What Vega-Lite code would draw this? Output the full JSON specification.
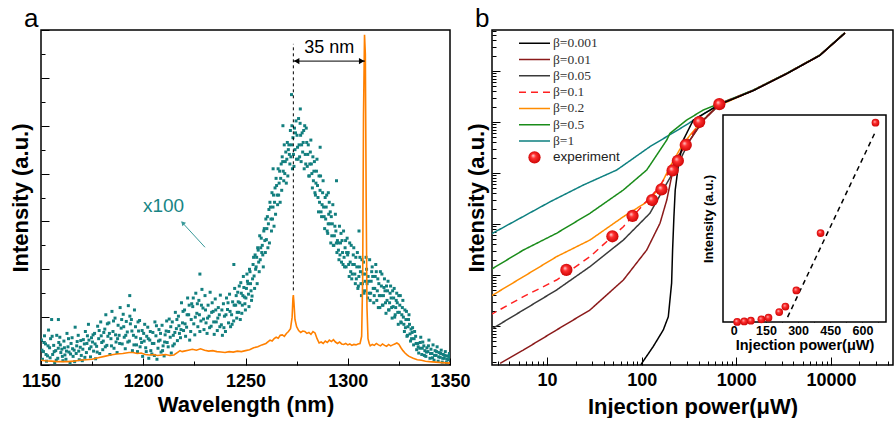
{
"$schema":"https://vega.github.io/schema/vega-lite/v6.json",
"background":"white",
"padding":{"left":8,"top":4,"right":0,"bottom":0},
"bounds":"flush",
"spacing":42,
"config":{
 "font":"Liberation Sans",
 "view":{"stroke":"#000","strokeWidth":1.5},
 "axis":{"domain":false,"grid":false,"tickColor":"#000","tickWidth":1,"labelColor":"#000","titleColor":"#000","labelFont":"Liberation Sans","titleFont":"Liberation Sans","labelFontWeight":"bold","titleFontWeight":"bold","labelFontSize":18,"titleFontSize":22,"labelOverlap":false,"labelFlush":false}
},
"datasets":{
 "spec":[{"w":1150,"v":0.10},{"w":1152,"v":0.09},{"w":1155,"v":0.08},{"w":1158,"v":0.07},{"w":1160,"v":0.07},{"w":1163,"v":0.07},{"w":1166,"v":0.08},{"w":1169,"v":0.10},{"w":1172,"v":0.11},{"w":1175,"v":0.12},{"w":1178,"v":0.15},{"w":1181,"v":0.18},{"w":1184,"v":0.21},{"w":1187,"v":0.23},{"w":1190,"v":0.24},{"w":1193,"v":0.26},{"w":1195,"v":0.26},{"w":1197,"v":0.24},{"w":1199,"v":0.25},{"w":1201,"v":0.22},{"w":1203,"v":0.21},{"w":1205,"v":0.22},{"w":1207,"v":0.20},{"w":1209,"v":0.21},{"w":1211,"v":0.22},{"w":1213,"v":0.20},{"w":1215,"v":0.21},{"w":1217,"v":0.27},{"w":1218,"v":0.30},{"w":1219,"v":0.28},{"w":1220,"v":0.29},{"w":1222,"v":0.31},{"w":1224,"v":0.33},{"w":1226,"v":0.31},{"w":1228,"v":0.34},{"w":1230,"v":0.31},{"w":1232,"v":0.29},{"w":1234,"v":0.30},{"w":1236,"v":0.28},{"w":1238,"v":0.27},{"w":1240,"v":0.26},{"w":1242,"v":0.28},{"w":1244,"v":0.27},{"w":1246,"v":0.29},{"w":1248,"v":0.28},{"w":1250,"v":0.30},{"w":1252,"v":0.32},{"w":1254,"v":0.36},{"w":1256,"v":0.38},{"w":1258,"v":0.42},{"w":1260,"v":0.45},{"w":1262,"v":0.52},{"w":1263,"v":0.50},{"w":1264,"v":0.55},{"w":1265,"v":0.58},{"w":1266,"v":0.56},{"w":1267,"v":0.62},{"w":1268,"v":0.63},{"w":1269,"v":0.60},{"w":1270,"v":0.66},{"w":1271,"v":0.70},{"w":1272,"v":0.76},{"w":1272.8,"v":1.0},{"w":1273.2,"v":1.40},{"w":1273.4,"v":1.46},{"w":1273.7,"v":1.30},{"w":1274.2,"v":0.95},{"w":1275,"v":0.80},{"w":1276,"v":0.72},{"w":1277,"v":0.68},{"w":1278,"v":0.71},{"w":1279,"v":0.70},{"w":1280,"v":0.66},{"w":1281,"v":0.68},{"w":1282,"v":0.64},{"w":1283,"v":0.70},{"w":1284,"v":0.67},{"w":1285,"v":0.55},{"w":1286,"v":0.46},{"w":1287,"v":0.48},{"w":1288,"v":0.45},{"w":1289,"v":0.50},{"w":1290,"v":0.47},{"w":1291,"v":0.52},{"w":1292,"v":0.49},{"w":1293,"v":0.53},{"w":1294,"v":0.48},{"w":1295,"v":0.45},{"w":1296,"v":0.48},{"w":1297,"v":0.44},{"w":1298,"v":0.43},{"w":1299,"v":0.45},{"w":1300,"v":0.42},{"w":1301,"v":0.44},{"w":1302,"v":0.41},{"w":1303,"v":0.43},{"w":1304,"v":0.42},{"w":1305,"v":0.44},{"w":1306,"v":0.45},{"w":1306.8,"v":0.6},{"w":1307.3,"v":1.8},{"w":1307.7,"v":5.2},{"w":1308.2,"v":6.9},{"w":1308.6,"v":6.5},{"w":1309,"v":3.5},{"w":1309.4,"v":1.2},{"w":1309.9,"v":0.55},{"w":1310.5,"v":0.45},{"w":1311,"v":0.40},{"w":1312,"v":0.43},{"w":1313,"v":0.41},{"w":1314,"v":0.45},{"w":1315,"v":0.42},{"w":1316,"v":0.40},{"w":1317,"v":0.44},{"w":1318,"v":0.41},{"w":1319,"v":0.39},{"w":1320,"v":0.43},{"w":1321,"v":0.40},{"w":1322,"v":0.42},{"w":1323,"v":0.44},{"w":1324,"v":0.46},{"w":1325,"v":0.43},{"w":1326,"v":0.36},{"w":1327,"v":0.30},{"w":1328,"v":0.25},{"w":1329,"v":0.21},{"w":1330,"v":0.18},{"w":1332,"v":0.14},{"w":1334,"v":0.11},{"w":1336,"v":0.10},{"w":1338,"v":0.08},{"w":1340,"v":0.07},{"w":1343,"v":0.06},{"w":1346,"v":0.05},{"w":1350,"v":0.04}],
 "dots":[{"w":1150.2,"v":0.52},{"w":1150.7,"v":0.12},{"w":1151.2,"v":0.28},{"w":1151.7,"v":0.61},{"w":1152.2,"v":0.44},{"w":1152.7,"v":0.08},{"w":1153.2,"v":0.19},{"w":1153.7,"v":0.73},{"w":1154.2,"v":0.36},{"w":1154.7,"v":0.55},{"w":1155.2,"v":0.95},{"w":1155.7,"v":0.22},{"w":1156.2,"v":0.41},{"w":1156.7,"v":0.05},{"w":1157.2,"v":0.30},{"w":1157.7,"v":0.62},{"w":1158.2,"v":0.14},{"w":1158.7,"v":0.47},{"w":1159.2,"v":0.58},{"w":1159.7,"v":0.26},{"w":1160.2,"v":0.33},{"w":1160.7,"v":0.09},{"w":1161.2,"v":0.50},{"w":1161.7,"v":0.21},{"w":1162.2,"v":0.12},{"w":1162.7,"v":0.66},{"w":1163.2,"v":0.38},{"w":1163.7,"v":0.27},{"w":1164.2,"v":0.04},{"w":1164.7,"v":0.45},{"w":1165.2,"v":0.57},{"w":1165.7,"v":0.18},{"w":1166.2,"v":0.31},{"w":1166.7,"v":0.79},{"w":1167.2,"v":0.24},{"w":1167.7,"v":0.49},{"w":1168.2,"v":0.62},{"w":1168.7,"v":0.11},{"w":1169.2,"v":0.37},{"w":1169.7,"v":0.20},{"w":1170.2,"v":0.09},{"w":1170.7,"v":0.53},{"w":1171.2,"v":0.44},{"w":1171.7,"v":0.70},{"w":1172.2,"v":0.26},{"w":1172.7,"v":0.61},{"w":1173.2,"v":0.85},{"w":1173.7,"v":0.34},{"w":1174.2,"v":0.17},{"w":1174.7,"v":0.57},{"w":1175.2,"v":0.48},{"w":1175.7,"v":0.29},{"w":1176.2,"v":0.66},{"w":1176.7,"v":0.13},{"w":1177.2,"v":0.39},{"w":1177.7,"v":0.81},{"w":1178.2,"v":0.55},{"w":1178.7,"v":0.24},{"w":1179.2,"v":0.90},{"w":1179.7,"v":0.47},{"w":1180.2,"v":0.32},{"w":1180.7,"v":0.68},{"w":1181.2,"v":0.75},{"w":1181.7,"v":1.05},{"w":1182.2,"v":0.41},{"w":1182.7,"v":0.60},{"w":1183.2,"v":0.88},{"w":1183.7,"v":0.22},{"w":1184.2,"v":0.55},{"w":1184.7,"v":1.12},{"w":1185.2,"v":0.70},{"w":1185.7,"v":0.35},{"w":1186.2,"v":0.98},{"w":1186.7,"v":0.48},{"w":1187.2,"v":0.26},{"w":1187.7,"v":0.83},{"w":1188.2,"v":0.62},{"w":1188.7,"v":1.20},{"w":1189.2,"v":0.77},{"w":1189.7,"v":0.44},{"w":1190.2,"v":1.06},{"w":1190.7,"v":0.58},{"w":1191.2,"v":0.34},{"w":1191.7,"v":0.91},{"w":1192.2,"v":0.69},{"w":1192.7,"v":1.24},{"w":1193.2,"v":0.50},{"w":1193.7,"v":0.86},{"w":1194.2,"v":0.95},{"w":1194.7,"v":0.30},{"w":1195.2,"v":0.62},{"w":1195.7,"v":1.15},{"w":1196.2,"v":0.80},{"w":1196.7,"v":0.42},{"w":1197.2,"v":0.28},{"w":1197.7,"v":0.71},{"w":1198.2,"v":0.93},{"w":1198.7,"v":0.55},{"w":1199.2,"v":0.47},{"w":1199.7,"v":0.18},{"w":1200.2,"v":0.66},{"w":1200.7,"v":0.85},{"w":1201.2,"v":0.36},{"w":1201.7,"v":0.60},{"w":1202.2,"v":0.79},{"w":1202.7,"v":0.14},{"w":1203.2,"v":0.52},{"w":1203.7,"v":0.30},{"w":1204.2,"v":0.23},{"w":1204.7,"v":0.68},{"w":1205.2,"v":0.45},{"w":1205.7,"v":0.90},{"w":1206.2,"v":0.61},{"w":1206.7,"v":0.12},{"w":1207.2,"v":0.35},{"w":1207.7,"v":0.74},{"w":1208.2,"v":0.52},{"w":1208.7,"v":0.27},{"w":1209.2,"v":0.83},{"w":1209.7,"v":0.40},{"w":1210.2,"v":0.19},{"w":1210.7,"v":0.63},{"w":1211.2,"v":0.71},{"w":1211.7,"v":0.47},{"w":1212.2,"v":0.38},{"w":1212.7,"v":0.96},{"w":1213.2,"v":0.58},{"w":1213.7,"v":0.25},{"w":1214.2,"v":0.90},{"w":1214.7,"v":0.62},{"w":1215.2,"v":0.44},{"w":1215.7,"v":1.10},{"w":1216.2,"v":0.76},{"w":1216.7,"v":0.51},{"w":1217.2,"v":1.02},{"w":1217.7,"v":0.66},{"w":1218.2,"v":0.57},{"w":1218.7,"v":1.30},{"w":1219.2,"v":0.88},{"w":1219.7,"v":0.72},{"w":1220.2,"v":1.15},{"w":1220.7,"v":0.60},{"w":1221.2,"v":0.79},{"w":1221.7,"v":1.40},{"w":1222.2,"v":1.05},{"w":1222.7,"v":0.52},{"w":1223.2,"v":0.70},{"w":1223.7,"v":1.28},{"w":1224.2,"v":1.22},{"w":1224.7,"v":0.86},{"w":1225.2,"v":0.63},{"w":1225.7,"v":1.50},{"w":1226.2,"v":1.08},{"w":1226.7,"v":0.80},{"w":1227.2,"v":1.35},{"w":1227.7,"v":0.70},{"w":1228.2,"v":0.92},{"w":1228.7,"v":1.58},{"w":1229.2,"v":1.19},{"w":1229.7,"v":0.74},{"w":1230.2,"v":1.45},{"w":1230.7,"v":0.88},{"w":1231.2,"v":0.66},{"w":1231.7,"v":1.25},{"w":1232.2,"v":1.02},{"w":1232.7,"v":1.52},{"w":1233.2,"v":0.81},{"w":1233.7,"v":1.30},{"w":1234.2,"v":1.12},{"w":1234.7,"v":0.64},{"w":1235.2,"v":1.38},{"w":1235.7,"v":0.90},{"w":1236.2,"v":0.72},{"w":1236.7,"v":1.20},{"w":1237.2,"v":1.05},{"w":1237.7,"v":1.46},{"w":1238.2,"v":0.84},{"w":1238.7,"v":0.62},{"w":1239.2,"v":1.28},{"w":1239.7,"v":1.02},{"w":1240.2,"v":0.70},{"w":1240.7,"v":1.40},{"w":1241.2,"v":1.16},{"w":1241.7,"v":0.88},{"w":1242.2,"v":1.48},{"w":1242.7,"v":0.80},{"w":1243.2,"v":1.05},{"w":1243.7,"v":1.32},{"w":1244.2,"v":0.92},{"w":1244.7,"v":1.60},{"w":1245.2,"v":1.25},{"w":1245.7,"v":0.98},{"w":1246.2,"v":1.52},{"w":1246.7,"v":1.10},{"w":1247.2,"v":1.30},{"w":1247.7,"v":1.72},{"w":1248.2,"v":1.08},{"w":1248.7,"v":1.45},{"w":1249.2,"v":1.62},{"w":1249.7,"v":1.28},{"w":1250.2,"v":1.40},{"w":1250.7,"v":1.90},{"w":1251.2,"v":1.70},{"w":1251.7,"v":1.22},{"w":1252.2,"v":1.95},{"w":1252.7,"v":1.55},{"w":1253.2,"v":1.44},{"w":1253.7,"v":2.10},{"w":1254.2,"v":1.86},{"w":1254.7,"v":2.30},{"w":1255.2,"v":2.05},{"w":1255.7,"v":1.70},{"w":1256.2,"v":2.40},{"w":1256.7,"v":1.95},{"w":1257.2,"v":2.20},{"w":1257.7,"v":2.65},{"w":1258.2,"v":2.50},{"w":1258.7,"v":2.05},{"w":1259.2,"v":2.85},{"w":1259.7,"v":2.35},{"w":1260.2,"v":2.62},{"w":1260.7,"v":3.10},{"w":1261.2,"v":2.95},{"w":1261.7,"v":2.55},{"w":1262.2,"v":3.30},{"w":1262.7,"v":2.80},{"w":1263.2,"v":3.05},{"w":1263.7,"v":3.55},{"w":1264.2,"v":3.40},{"w":1264.7,"v":3.15},{"w":1265.2,"v":3.75},{"w":1265.7,"v":3.35},{"w":1266.2,"v":3.55},{"w":1266.7,"v":4.05},{"w":1267.2,"v":3.90},{"w":1267.7,"v":3.65},{"w":1268.2,"v":4.25},{"w":1268.7,"v":3.85},{"w":1269.2,"v":4.00},{"w":1269.7,"v":4.45},{"w":1270.2,"v":4.30},{"w":1270.7,"v":3.95},{"w":1271.2,"v":4.60},{"w":1271.7,"v":4.20},{"w":1272.2,"v":4.35},{"w":1272.7,"v":5.00},{"w":1273.2,"v":4.75},{"w":1273.7,"v":4.15},{"w":1274.2,"v":4.50},{"w":1274.7,"v":5.10},{"w":1275.2,"v":4.80},{"w":1275.7,"v":4.30},{"w":1276.2,"v":4.60},{"w":1276.7,"v":5.05},{"w":1277.2,"v":4.25},{"w":1277.7,"v":4.85},{"w":1278.2,"v":4.65},{"w":1278.7,"v":4.10},{"w":1279.2,"v":4.40},{"w":1279.7,"v":4.95},{"w":1280.2,"v":4.15},{"w":1280.7,"v":4.60},{"w":1281.2,"v":3.95},{"w":1281.7,"v":4.45},{"w":1282.2,"v":4.20},{"w":1282.7,"v":3.70},{"w":1283.2,"v":3.85},{"w":1283.7,"v":4.25},{"w":1284.2,"v":3.55},{"w":1284.7,"v":4.05},{"w":1285.2,"v":3.75},{"w":1285.7,"v":3.20},{"w":1286.2,"v":3.40},{"w":1286.7,"v":3.95},{"w":1287.2,"v":3.10},{"w":1287.7,"v":3.60},{"w":1288.2,"v":3.30},{"w":1288.7,"v":2.85},{"w":1289.2,"v":3.05},{"w":1289.7,"v":3.55},{"w":1290.2,"v":2.75},{"w":1290.7,"v":3.15},{"w":1291.2,"v":2.95},{"w":1291.7,"v":2.55},{"w":1292.2,"v":2.70},{"w":1292.7,"v":3.35},{"w":1293.2,"v":2.50},{"w":1293.7,"v":2.90},{"w":1294.2,"v":2.80},{"w":1294.7,"v":2.35},{"w":1295.2,"v":2.55},{"w":1295.7,"v":2.20},{"w":1296.2,"v":2.30},{"w":1296.7,"v":2.75},{"w":1297.2,"v":2.60},{"w":1297.7,"v":2.10},{"w":1298.2,"v":2.25},{"w":1298.7,"v":2.45},{"w":1299.2,"v":2.05},{"w":1299.7,"v":2.65},{"w":1300.2,"v":2.35},{"w":1300.7,"v":1.85},{"w":1301.2,"v":2.15},{"w":1301.7,"v":2.50},{"w":1302.2,"v":1.90},{"w":1302.7,"v":2.30},{"w":1303.2,"v":2.10},{"w":1303.7,"v":1.70},{"w":1304.2,"v":1.80},{"w":1304.7,"v":2.35},{"w":1305.2,"v":1.65},{"w":1305.7,"v":2.05},{"w":1306.2,"v":1.95},{"w":1306.7,"v":1.45},{"w":1307.2,"v":1.70},{"w":1307.7,"v":2.15},{"w":1308.2,"v":1.55},{"w":1308.7,"v":1.90},{"w":1309.2,"v":2.00},{"w":1309.7,"v":1.40},{"w":1310.2,"v":1.75},{"w":1310.7,"v":2.20},{"w":1311.2,"v":1.50},{"w":1311.7,"v":1.95},{"w":1312.2,"v":1.85},{"w":1312.7,"v":1.30},{"w":1313.2,"v":1.60},{"w":1313.7,"v":2.10},{"w":1314.2,"v":1.35},{"w":1314.7,"v":1.80},{"w":1315.2,"v":1.70},{"w":1315.7,"v":1.20},{"w":1316.2,"v":1.45},{"w":1316.7,"v":1.90},{"w":1317.2,"v":1.25},{"w":1317.7,"v":1.62},{"w":1318.2,"v":1.55},{"w":1318.7,"v":1.08},{"w":1319.2,"v":1.35},{"w":1319.7,"v":1.75},{"w":1320.2,"v":1.15},{"w":1320.7,"v":1.50},{"w":1321.2,"v":1.40},{"w":1321.7,"v":0.98},{"w":1322.2,"v":1.22},{"w":1322.7,"v":1.60},{"w":1323.2,"v":1.05},{"w":1323.7,"v":1.35},{"w":1324.2,"v":1.30},{"w":1324.7,"v":0.85},{"w":1325.2,"v":1.10},{"w":1325.7,"v":1.45},{"w":1326.2,"v":0.88},{"w":1326.7,"v":1.20},{"w":1327.2,"v":1.00},{"w":1327.7,"v":0.70},{"w":1328.2,"v":0.78},{"w":1328.7,"v":1.12},{"w":1329.2,"v":0.62},{"w":1329.7,"v":0.95},{"w":1330.2,"v":0.85},{"w":1330.7,"v":0.50},{"w":1331.2,"v":0.55},{"w":1331.7,"v":0.78},{"w":1332.2,"v":0.42},{"w":1332.7,"v":0.70},{"w":1333.2,"v":0.60},{"w":1333.7,"v":0.32},{"w":1334.2,"v":0.45},{"w":1334.7,"v":0.25},{"w":1335.2,"v":0.35},{"w":1335.7,"v":0.58},{"w":1336.2,"v":0.22},{"w":1336.7,"v":0.48},{"w":1337.2,"v":0.40},{"w":1337.7,"v":0.30},{"w":1338.2,"v":0.18},{"w":1338.7,"v":0.36},{"w":1339.2,"v":0.28},{"w":1339.7,"v":0.52},{"w":1340.2,"v":0.14},{"w":1340.7,"v":0.33},{"w":1341.2,"v":0.24},{"w":1341.7,"v":0.42},{"w":1342.2,"v":0.10},{"w":1342.7,"v":0.30},{"w":1343.2,"v":0.20},{"w":1343.7,"v":0.38},{"w":1344.2,"v":0.08},{"w":1344.7,"v":0.26},{"w":1345.2,"v":0.16},{"w":1345.7,"v":0.31},{"w":1346.2,"v":0.06},{"w":1346.7,"v":0.22},{"w":1347.2,"v":0.14},{"w":1347.7,"v":0.28},{"w":1348.2,"v":0.05},{"w":1348.7,"v":0.19},{"w":1349.2,"v":0.11},{"w":1349.7,"v":0.24},{"w":1349.95,"v":0.15},{"w":1272.5,"v":5.65},{"w":1294.5,"v":3.85},{"w":1290.5,"v":3.6},{"w":1286.5,"v":4.55},{"w":1305.5,"v":2.8},{"w":1244.3,"v":2.1},{"w":1227.7,"v":1.9},{"w":1193.4,"v":1.45},{"w":1158.5,"v":0.95},{"w":1268.3,"v":5.0},{"w":1276.8,"v":5.35},{"w":1263.5,"v":4.1},
 {"w":1150.45,"v":0.31},{"w":1151.45,"v":0.47},{"w":1152.45,"v":0.22},{"w":1153.45,"v":0.40},{"w":1154.45,"v":0.15},{"w":1155.45,"v":0.60},{"w":1156.45,"v":0.28},{"w":1157.45,"v":0.10},{"w":1158.45,"v":0.35},{"w":1159.45,"v":0.42},{"w":1160.45,"v":0.18},{"w":1161.45,"v":0.36},{"w":1162.45,"v":0.29},{"w":1163.45,"v":0.55},{"w":1164.45,"v":0.23},{"w":1165.45,"v":0.34},{"w":1166.45,"v":0.07},{"w":1167.45,"v":0.40},{"w":1168.45,"v":0.29},{"w":1169.45,"v":0.51},{"w":1170.45,"v":0.33},{"w":1171.45,"v":0.16},{"w":1172.45,"v":0.45},{"w":1173.45,"v":0.52},{"w":1174.45,"v":0.38},{"w":1175.45,"v":0.63},{"w":1176.45,"v":0.44},{"w":1177.45,"v":0.27},{"w":1178.45,"v":0.72},{"w":1179.45,"v":0.61},{"w":1180.45,"v":0.50},{"w":1181.45,"v":0.38},{"w":1182.45,"v":0.86},{"w":1183.45,"v":0.66},{"w":1184.45,"v":0.40},{"w":1185.45,"v":0.92},{"w":1186.45,"v":0.63},{"w":1187.45,"v":0.55},{"w":1188.45,"v":0.45},{"w":1189.45,"v":0.95},{"w":1190.45,"v":0.80},{"w":1191.45,"v":0.62},{"w":1192.45,"v":0.48},{"w":1193.45,"v":1.02},{"w":1194.45,"v":0.71},{"w":1195.45,"v":0.42},{"w":1196.45,"v":0.58},{"w":1197.45,"v":0.90},{"w":1198.45,"v":0.38},{"w":1199.45,"v":0.72},{"w":1200.45,"v":0.50},{"w":1201.45,"v":0.28},{"w":1202.45,"v":0.55},{"w":1203.45,"v":0.70},{"w":1204.45,"v":0.45},{"w":1205.45,"v":0.20},{"w":1206.45,"v":0.82},{"w":1207.45,"v":0.50},{"w":1208.45,"v":0.66},{"w":1209.45,"v":0.30},{"w":1210.45,"v":0.48},{"w":1211.45,"v":0.92},{"w":1212.45,"v":0.70},{"w":1213.45,"v":0.80},{"w":1214.45,"v":0.40},{"w":1215.45,"v":0.68},{"w":1216.45,"v":0.95},{"w":1217.45,"v":0.82},{"w":1218.45,"v":0.74},{"w":1219.45,"v":1.12},{"w":1220.45,"v":0.86},{"w":1221.45,"v":1.05},{"w":1222.45,"v":1.25},{"w":1223.45,"v":0.95},{"w":1224.45,"v":1.40},{"w":1225.45,"v":1.00},{"w":1226.45,"v":1.28},{"w":1227.45,"v":1.05},{"w":1228.45,"v":1.25},{"w":1229.45,"v":0.96},{"w":1230.45,"v":1.15},{"w":1231.45,"v":0.98},{"w":1232.45,"v":0.78},{"w":1233.45,"v":1.10},{"w":1234.45,"v":0.90},{"w":1235.45,"v":1.15},{"w":1236.45,"v":0.98},{"w":1237.45,"v":0.80},{"w":1238.45,"v":1.15},{"w":1239.45,"v":0.78},{"w":1240.45,"v":1.05},{"w":1241.45,"v":1.30},{"w":1242.45,"v":1.12},{"w":1243.45,"v":0.85},{"w":1244.45,"v":1.25},{"w":1245.45,"v":1.45},{"w":1246.45,"v":1.32},{"w":1247.45,"v":0.95},{"w":1248.45,"v":1.25},{"w":1249.45,"v":1.42},{"w":1250.45,"v":1.60},{"w":1251.45,"v":1.48},{"w":1252.45,"v":1.70},{"w":1253.45,"v":1.80},{"w":1254.45,"v":1.60},{"w":1255.45,"v":2.25},{"w":1256.45,"v":2.15},{"w":1257.45,"v":2.45},{"w":1258.45,"v":2.30},{"w":1259.45,"v":2.60},{"w":1260.45,"v":2.85},{"w":1261.45,"v":3.25},{"w":1262.45,"v":3.05},{"w":1263.45,"v":3.30},{"w":1264.45,"v":3.70},{"w":1265.45,"v":3.55},{"w":1266.45,"v":3.80},{"w":1267.45,"v":4.20},{"w":1268.45,"v":4.05},{"w":1269.45,"v":4.25},{"w":1270.45,"v":4.65},{"w":1271.45,"v":4.40},{"w":1272.45,"v":4.60},{"w":1273.45,"v":4.40},{"w":1274.45,"v":4.85},{"w":1275.45,"v":4.55},{"w":1276.45,"v":4.35},{"w":1277.45,"v":4.60},{"w":1278.45,"v":4.90},{"w":1279.45,"v":4.20},{"w":1280.45,"v":4.40},{"w":1281.45,"v":4.20},{"w":1282.45,"v":4.00},{"w":1283.45,"v":4.05},{"w":1284.45,"v":3.80},{"w":1285.45,"v":3.50},{"w":1286.45,"v":3.65},{"w":1287.45,"v":3.35},{"w":1288.45,"v":3.10},{"w":1289.45,"v":3.30},{"w":1290.45,"v":2.95},{"w":1291.45,"v":3.20},{"w":1292.45,"v":2.95},{"w":1293.45,"v":2.70},{"w":1294.45,"v":2.55},{"w":1295.45,"v":2.40},{"w":1296.45,"v":2.55},{"w":1297.45,"v":2.35},{"w":1298.45,"v":2.05},{"w":1299.45,"v":2.35},{"w":1300.45,"v":2.10},{"w":1301.45,"v":1.95},{"w":1302.45,"v":2.10},{"w":1303.45,"v":1.90},{"w":1304.45,"v":2.05},{"w":1305.45,"v":1.85},{"w":1306.45,"v":1.70},{"w":1307.45,"v":1.90},{"w":1308.45,"v":1.75},{"w":1309.45,"v":1.70},{"w":1310.45,"v":1.50},{"w":1311.45,"v":1.75},{"w":1312.45,"v":1.60},{"w":1313.45,"v":1.85},{"w":1314.45,"v":1.55},{"w":1315.45,"v":1.45},{"w":1316.45,"v":1.65},{"w":1317.45,"v":1.45},{"w":1318.45,"v":1.30},{"w":1319.45,"v":1.55},{"w":1320.45,"v":1.30},{"w":1321.45,"v":1.20},{"w":1322.45,"v":1.40},{"w":1323.45,"v":1.20},{"w":1324.45,"v":1.10},{"w":1325.45,"v":1.25},{"w":1326.45,"v":1.05},{"w":1327.45,"v":0.85},{"w":1328.45,"v":0.95},{"w":1329.45,"v":0.80},{"w":1330.45,"v":0.65},{"w":1331.45,"v":0.68},{"w":1332.45,"v":0.55},{"w":1333.45,"v":0.45},{"w":1334.45,"v":0.38},{"w":1335.45,"v":0.47},{"w":1336.45,"v":0.35},{"w":1337.45,"v":0.20},{"w":1338.45,"v":0.27},{"w":1339.45,"v":0.40},{"w":1340.45,"v":0.24},{"w":1341.45,"v":0.15},{"w":1342.45,"v":0.20},{"w":1343.45,"v":0.28},{"w":1344.45,"v":0.17},{"w":1345.45,"v":0.24},{"w":1346.45,"v":0.14},{"w":1347.45,"v":0.20},{"w":1348.45,"v":0.12},{"w":1349.45,"v":0.18},
 {"w":1245.95,"v":1.10},{"w":1246.95,"v":1.65},{"w":1247.95,"v":1.50},{"w":1248.95,"v":1.85},{"w":1249.95,"v":1.15},{"w":1250.95,"v":1.75},{"w":1251.95,"v":2.00},{"w":1252.95,"v":1.35},{"w":1253.95,"v":2.25},{"w":1254.95,"v":2.00},{"w":1255.95,"v":2.45},{"w":1256.95,"v":2.70},{"w":1257.95,"v":2.35},{"w":1258.95,"v":2.80},{"w":1259.95,"v":3.05},{"w":1260.95,"v":2.45},{"w":1261.95,"v":3.40},{"w":1262.95,"v":3.60},{"w":1263.95,"v":2.90},{"w":1264.95,"v":3.90},{"w":1265.95,"v":4.10},{"w":1266.95,"v":3.40},{"w":1267.95,"v":4.35},{"w":1268.95,"v":4.60},{"w":1269.95,"v":3.80},{"w":1270.95,"v":4.50},{"w":1271.95,"v":4.90},{"w":1272.95,"v":4.10},{"w":1273.95,"v":4.95},{"w":1274.95,"v":4.30},{"w":1275.95,"v":5.15},{"w":1276.95,"v":4.80},{"w":1277.95,"v":4.45},{"w":1278.95,"v":5.00},{"w":1279.95,"v":4.65},{"w":1280.95,"v":3.95},{"w":1281.95,"v":4.70},{"w":1282.95,"v":4.35},{"w":1283.95,"v":3.60},{"w":1284.95,"v":4.30},{"w":1285.95,"v":3.95},{"w":1286.95,"v":3.20},{"w":1287.95,"v":3.85},{"w":1288.95,"v":3.50},{"w":1289.95,"v":2.80},{"w":1290.95,"v":3.40},{"w":1291.95,"v":3.10},{"w":1292.95,"v":2.50},{"w":1293.95,"v":3.15},{"w":1294.95,"v":2.60},{"w":1295.95,"v":2.90},{"w":1296.95,"v":2.15},{"w":1297.95,"v":2.80},{"w":1298.95,"v":2.60},{"w":1299.95,"v":2.30},{"w":1300.95,"v":2.55},{"w":1301.95,"v":1.80},{"w":1302.95,"v":2.45},{"w":1303.95,"v":2.25},{"w":1304.95,"v":1.60},{"w":1305.95,"v":2.25},{"w":1306.95,"v":2.20},{"w":1307.95,"v":1.50},{"w":1308.95,"v":2.25},{"w":1309.95,"v":1.85},{"w":1310.95,"v":1.35},{"w":1311.95,"v":2.05},{"w":1312.95,"v":1.45},{"w":1313.95,"v":1.95},{"w":1314.95,"v":1.20},{"w":1315.95,"v":1.95},{"w":1316.95,"v":1.25},{"w":1317.95,"v":1.80},{"w":1318.95,"v":1.65},{"w":1319.95,"v":1.15},{"w":1320.95,"v":1.65},{"w":1321.95,"v":1.55},{"w":1322.95,"v":1.00},{"w":1323.95,"v":1.50},{"w":1324.95,"v":1.45},{"w":1325.95,"v":0.90},{"w":1326.95,"v":1.35},{"w":1327.95,"v":1.15},{"w":1328.95,"v":0.60},{"w":1329.95,"v":1.05},{"w":1330.95,"v":0.75}],
 "curves":[
  {"b":"β=1","P":2.62,"I":650},{"b":"β=1","P":4.79,"I":1197},{"b":"β=1","P":10.8,"I":2735},{"b":"β=1","P":24.2,"I":5821},{"b":"β=1","P":54.5,"I":11455},{"b":"β=1","P":122,"I":32810},{"b":"β=1","P":275,"I":80910},{"b":"β=1","P":640,"I":215300},{"b":"β=1","P":1507,"I":423600},{"b":"β=1","P":3396,"I":901600},{"b":"β=1","P":7638,"I":2061000},{"b":"β=1","P":14030,"I":5623000},
  {"b":"β=0.5","P":2.5,"I":125},{"b":"β=0.5","P":5.62,"I":309},{"b":"β=0.5","P":12.6,"I":658},{"b":"β=0.5","P":28.4,"I":1622},{"b":"β=0.5","P":64,"I":4645},{"b":"β=0.5","P":113,"I":11455},{"b":"β=0.5","P":184,"I":44361},{"b":"β=0.5","P":199,"I":59979},{"b":"β=0.5","P":299,"I":109400},{"b":"β=0.5","P":447,"I":171800},{"b":"β=0.5","P":671,"I":232000},{"b":"β=0.5","P":1507,"I":420000},{"b":"β=0.5","P":3396,"I":895000},{"b":"β=0.5","P":7638,"I":2050000},{"b":"β=0.5","P":14030,"I":5600000},
  {"b":"β=0.2","P":2.5,"I":37.6},{"b":"β=0.2","P":5.62,"I":92.7},{"b":"β=0.2","P":12.6,"I":229},{"b":"β=0.2","P":28.4,"I":485},{"b":"β=0.2","P":64,"I":1390},{"b":"β=0.2","P":122,"I":2951},{"b":"β=0.2","P":158,"I":5623},{"b":"β=0.2","P":199,"I":13305},{"b":"β=0.2","P":275,"I":38194},{"b":"β=0.2","P":413,"I":94406},{"b":"β=0.2","P":619,"I":199500},{"b":"β=0.2","P":1507,"I":418000},{"b":"β=0.2","P":3396,"I":890000},{"b":"β=0.2","P":7638,"I":2040000},{"b":"β=0.2","P":14030,"I":5580000},
  {"b":"β=0.1","P":2.5,"I":16.4},{"b":"β=0.1","P":5.62,"I":37.6},{"b":"β=0.1","P":12.6,"I":79.8},{"b":"β=0.1","P":28.4,"I":229},{"b":"β=0.1","P":64,"I":885},{"b":"β=0.1","P":144,"I":4645},{"b":"β=0.1","P":209,"I":12590},{"b":"β=0.1","P":286,"I":35481},{"b":"β=0.1","P":413,"I":95500},{"b":"β=0.1","P":671,"I":229100},{"b":"β=0.1","P":1507,"I":416000},{"b":"β=0.1","P":3396,"I":888000},{"b":"β=0.1","P":7638,"I":2035000},{"b":"β=0.1","P":14030,"I":5570000},
  {"b":"β=0.05","P":2.5,"I":8.36},{"b":"β=0.05","P":5.62,"I":20.6},{"b":"β=0.05","P":12.6,"I":50.8},{"b":"β=0.05","P":28.4,"I":146},{"b":"β=0.05","P":64,"I":485},{"b":"β=0.05","P":122,"I":1622},{"b":"β=0.05","P":184,"I":6281},{"b":"β=0.05","P":234,"I":13305},{"b":"β=0.05","P":324,"I":44361},{"b":"β=0.05","P":447,"I":109400},{"b":"β=0.05","P":671,"I":225000},{"b":"β=0.05","P":1507,"I":414000},{"b":"β=0.05","P":3396,"I":885000},{"b":"β=0.05","P":7638,"I":2030000},{"b":"β=0.05","P":14030,"I":5560000},
  {"b":"β=0.01","P":3.19,"I":1.85},{"b":"β=0.01","P":5.62,"I":3.38},{"b":"β=0.01","P":12.6,"I":8.36},{"b":"β=0.01","P":28.4,"I":20.6},{"b":"β=0.01","P":64,"I":79.8},{"b":"β=0.01","P":113,"I":309},{"b":"β=0.01","P":156,"I":1033},{"b":"β=0.01","P":184,"I":2951},{"b":"β=0.01","P":207,"I":8472},{"b":"β=0.01","P":225,"I":17989},{"b":"β=0.01","P":324,"I":44361},{"b":"β=0.01","P":447,"I":107000},{"b":"β=0.01","P":671,"I":224000},{"b":"β=0.01","P":1507,"I":413000},{"b":"β=0.01","P":3396,"I":884000},{"b":"β=0.01","P":7638,"I":2030000},{"b":"β=0.01","P":14030,"I":5560000},
  {"b":"β=0.001","P":95,"I":1.5},{"b":"β=0.001","P":100,"I":1.85},{"b":"β=0.001","P":132,"I":3.93},{"b":"β=0.001","P":169,"I":8.36},{"b":"β=0.001","P":191,"I":15.2},{"b":"β=0.001","P":207,"I":68.7},{"b":"β=0.001","P":212,"I":309},{"b":"β=0.001","P":219,"I":1390},{"b":"β=0.001","P":226,"I":4645},{"b":"β=0.001","P":243,"I":13305},{"b":"β=0.001","P":275,"I":44361},{"b":"β=0.001","P":351,"I":109400},{"b":"β=0.001","P":671,"I":222000},{"b":"β=0.001","P":1507,"I":412000},{"b":"β=0.001","P":3396,"I":883000},{"b":"β=0.001","P":7638,"I":2025000},{"b":"β=0.001","P":14030,"I":5550000}
 ],
 "exp":[{"P":16,"I":126},{"P":49,"I":575},{"P":80,"I":1445},{"P":129,"I":2951},{"P":162,"I":4786},{"P":212,"I":11220},{"P":241,"I":17380},{"P":292,"I":35480},{"P":405,"I":100000},{"P":661,"I":223900}],
 "legl":[{"b":"β=0.001"},{"b":"β=0.01"},{"b":"β=0.05"},{"b":"β=0.1"},{"b":"β=0.2"},{"b":"β=0.5"},{"b":"β=1"}]
},
"hconcat":[
 {
  "width":409,"height":335,
  "title":{"text":"a","anchor":"start","frame":"group","dx":-17,"fontSize":26,"fontWeight":"normal","font":"Liberation Sans","baseline":"alphabetic","offset":-23,"color":"#000"},
  "encoding":{
   "x":{"field":"w","type":"quantitative","scale":{"domain":[1150,1350],"nice":false,"zero":false},
        "axis":{"title":"Wavelength (nm)","values":[1150,1175,1200,1225,1250,1275,1300,1325,1350],"format":"d","labelExpr":"datum.value % 50 == 0 ? datum.label : ''","tickSize":{"condition":{"test":"datum.value % 50 == 0","value":-7},"value":-4},"labelPadding":14,"titlePadding":1}},
   "y":{"field":"v","type":"quantitative","scale":{"domain":[0,7],"nice":false,"zero":false},
        "axis":{"title":"Intensity (a.u.)","labels":false,"values":[0,0.5,1,1.5,2,2.5,3,3.5,4,4.5,5,5.5,6,6.5,7],"tickSize":{"condition":{"test":"datum.value % 1 == 0","value":-8},"value":-4},"titlePadding":8}}
  },
  "layer":[
   {"data":{"name":"dots"},"mark":{"type":"square","size":9,"color":"#137f7f","opacity":1,"clip":true}},
   {"data":{"name":"spec"},"mark":{"type":"line","color":"#ff8000","strokeWidth":1.6,"clip":true}},
   {"data":{"values":[{"w":1273.4,"v":1.56,"v2":6.71}]},"mark":{"type":"rule","color":"#000","strokeWidth":1,"strokeDash":[3,3]},"encoding":{"y2":{"field":"v2"}}},
   {"data":{"values":[{"w":1273.4,"w2":1308.4,"v":6.35}]},"mark":{"type":"rule","color":"#000","strokeWidth":1},"encoding":{"x2":{"field":"w2"}}},
   {"data":{"values":[{"w":1275.0,"v":6.35}]},"mark":{"type":"point","shape":"triangle-left","size":40,"filled":true,"color":"#000","opacity":1}},
   {"data":{"values":[{"w":1306.8,"v":6.35}]},"mark":{"type":"point","shape":"triangle-right","size":40,"filled":true,"color":"#000","opacity":1}},
   {"data":{"values":[{"w":1291,"v":6.52,"t":"35 nm"}]},"mark":{"type":"text","fontSize":18,"color":"#000","align":"center","baseline":"alphabetic"},"encoding":{"text":{"field":"t"}}},
   {"data":{"values":[{"w":1209.9,"v":3.33,"t":"x100"}]},"mark":{"type":"text","fontSize":19,"color":"#178585","align":"center","baseline":"middle"},"encoding":{"text":{"field":"t"}}},
   {"data":{"values":[{"w":1230.2,"w2":1218.8,"v":2.46,"v2":2.99}]},"mark":{"type":"rule","color":"#3a9a9a","strokeWidth":1},"encoding":{"x2":{"field":"w2"},"y2":{"field":"v2"}}},
   {"data":{"values":[{"w":1219.3,"v":2.97}]},"mark":{"type":"point","shape":"triangle-up","size":25,"filled":true,"color":"#3a9a9a","angle":317,"opacity":1}}
  ]
 },
 {
  "width":401,"height":335,
  "title":{"text":"b","anchor":"start","frame":"group","dx":-17,"fontSize":26,"fontWeight":"normal","font":"Liberation Sans","baseline":"alphabetic","offset":-23,"color":"#000"},
  "resolve":{"scale":{"x":"independent","y":"independent"}},
  "layer":[
   {
    "encoding":{
     "x":{"field":"P","type":"quantitative","scale":{"type":"log","domain":[2.62,45200],"nice":false},
          "axis":{"title":"Injection power(μW)","values":[3,4,5,6,7,8,9,10,20,30,40,50,60,70,80,90,100,200,300,400,500,600,700,800,900,1000,2000,3000,4000,5000,6000,7000,8000,9000,10000,20000,30000,40000],"labelExpr":"indexof([10,100,1000,10000],datum.value) >= 0 ? format(datum.value,'d') : ''","tickSize":{"condition":{"test":"indexof([10,100,1000,10000],datum.value) >= 0","value":-8},"value":-4},"labelPadding":14,"titlePadding":3}},
     "y":{"field":"I","type":"quantitative","scale":{"type":"log","domain":[1.72,6370000],"nice":false},
          "axis":{"title":"Intensity (a.u.)","labels":false,"values":[2,3,4,5,6,7,8,9,10,20,30,40,50,60,70,80,90,100,200,300,400,500,600,700,800,900,1000,2000,3000,4000,5000,6000,7000,8000,9000,10000,20000,30000,40000,50000,60000,70000,80000,90000,100000,200000,300000,400000,500000,600000,700000,800000,900000,1000000,2000000,3000000,4000000,5000000,6000000],"tickSize":{"condition":{"test":"indexof([10,100,1000,10000,100000,1000000],datum.value) >= 0","value":-8},"value":-4},"titlePadding":3}}
    },
    "layer":[
     {"data":{"name":"curves"},"mark":{"type":"line","strokeWidth":1.5,"clip":true},
      "encoding":{
       "stroke":{"field":"b","type":"nominal","scale":{"domain":["β=0.001","β=0.01","β=0.05","β=0.1","β=0.2","β=0.5","β=1"],"range":["#000000","#8b1a1a","#3a3a3a","#ff2020","#ff8c00","#1a8c1a","#0e8080"]},"legend":null},
       "strokeDash":{"field":"b","type":"nominal","scale":{"domain":["β=0.001","β=0.01","β=0.05","β=0.1","β=0.2","β=0.5","β=1"],"range":[[1,0],[1,0],[1,0],[7,5],[1,0],[1,0],[1,0]]},"legend":null}
      }},
     {"data":{"name":"exp"},"mark":{"type":"circle","size":150,"opacity":1,"fill":{"gradient":"radial","x1":0.38,"y1":0.35,"r1":0,"x2":0.5,"y2":0.5,"r2":0.55,"stops":[{"offset":0,"color":"#ffd6d6"},{"offset":0.35,"color":"#ff3030"},{"offset":1,"color":"#c80000"}]}}}
    ]
   },
   {
    "encoding":{
     "x":{"field":"P","type":"quantitative","scale":{"domain":[-50,710],"range":[231,394],"nice":false,"zero":false},
          "axis":{"orient":"bottom","offset":-43,"title":"Injection power(μW)","values":[0,75,150,225,300,375,450,525,600,675],"format":"d","labelExpr":"datum.value % 150 == 0 ? datum.label : ''","labelFontSize":12.5,"titleFontSize":14.5,"tickSize":{"condition":{"test":"datum.value % 150 == 0","value":-4},"value":-2},"labelPadding":6,"titlePadding":0}},
     "y":{"field":"I","type":"quantitative","scale":{"domain":[0,232600],"range":[292,85],"nice":false,"zero":false},
          "axis":{"orient":"left","offset":-231,"title":"Intensity (a.u.)","labels":false,"values":[27174,54348,81522,108696,135870,163043,190217,217391],"titleFontSize":13,"tickSize":{"condition":{"test":"indexof([54348,108696,163043,217391],datum.value) >= 0","value":-5},"value":-3},"titlePadding":7}}
    },
    "layer":[
     {"data":{"values":[{"P":-50,"P2":710,"I":0,"I2":232600}]},"mark":{"type":"rect","fill":"#fff","stroke":"#000","strokeWidth":1.5},"encoding":{"x2":{"field":"P2"},"y2":{"field":"I2"}}},
     {"data":{"values":[{"P":251,"I":5400},{"P":661,"I":214000}]},"mark":{"type":"line","color":"#000","strokeWidth":1.5,"strokeDash":[5,4]}},
     {"data":{"name":"exp"},"mark":{"type":"circle","size":60,"opacity":1,"fill":{"gradient":"radial","x1":0.38,"y1":0.35,"r1":0,"x2":0.5,"y2":0.5,"r2":0.55,"stops":[{"offset":0,"color":"#ffd6d6"},{"offset":0.35,"color":"#ff3030"},{"offset":1,"color":"#c80000"}]}}}
    ]
   },
   {
    "encoding":{
     "y":{"field":"b","type":"ordinal","scale":{"type":"point","domain":["β=0.001","β=0.01","β=0.05","β=0.1","β=0.2","β=0.5","β=1","experiment"],"range":[13.3,127.3],"padding":0},"axis":null}
    },
    "layer":[
     {"data":{"name":"legl"},"mark":{"type":"rule","strokeWidth":1.5},
      "encoding":{
       "x":{"datum":0,"type":"quantitative","scale":{"domain":[0,1],"range":[27,58]},"axis":null},
       "x2":{"datum":1},
       "stroke":{"field":"b","type":"nominal","scale":{"domain":["β=0.001","β=0.01","β=0.05","β=0.1","β=0.2","β=0.5","β=1"],"range":["#000000","#8b1a1a","#3a3a3a","#ff2020","#ff8c00","#1a8c1a","#0e8080"]},"legend":null},
       "strokeDash":{"field":"b","type":"nominal","scale":{"domain":["β=0.001","β=0.01","β=0.05","β=0.1","β=0.2","β=0.5","β=1"],"range":[[1,0],[1,0],[1,0],[7,5],[1,0],[1,0],[1,0]]},"legend":null}
      }},
     {"data":{"name":"legl"},"mark":{"type":"text","align":"left","baseline":"middle","dx":3,"font":"Liberation Serif","fontSize":13.5,"color":"#333"},
      "encoding":{"x":{"datum":1,"type":"quantitative","axis":null},"text":{"field":"b"}}},
     {"data":{"values":[{"b":"experiment"}]},"mark":{"type":"circle","size":150,"opacity":1,"fill":{"gradient":"radial","x1":0.38,"y1":0.35,"r1":0,"x2":0.5,"y2":0.5,"r2":0.55,"stops":[{"offset":0,"color":"#ffd6d6"},{"offset":0.35,"color":"#ff3030"},{"offset":1,"color":"#c80000"}]}},
      "encoding":{"x":{"datum":0.5,"type":"quantitative","axis":null}}},
     {"data":{"values":[{"b":"experiment"}]},"mark":{"type":"text","align":"left","baseline":"middle","dx":3,"fontSize":13.5,"color":"#222"},
      "encoding":{"x":{"datum":1,"type":"quantitative","axis":null},"text":{"field":"b"}}}
    ]
   }
  ]
 }
]
}
